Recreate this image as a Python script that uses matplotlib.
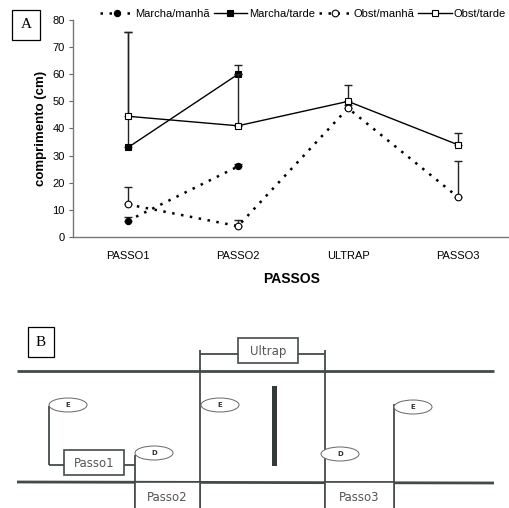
"""
plot.py
Step length chart (panel A) plus the walkway sketch (panel B).
"""

import matplotlib

matplotlib.use("Agg")
import matplotlib.pyplot as plt
from matplotlib.patches import Ellipse, Rectangle

passos = ["PASSO1", "PASSO2", "ULTRAP", "PASSO3"]

marcha_manha = [6, 26]
marcha_manha_err = [1.5, 1.0]
marcha_tarde = [33, 60]
marcha_tarde_err = [42.5, 3.3]
obst_manha = [12, 4, 47.5, 14.7]
obst_manha_err = [6.3, 2.3, 1.0, 13.3]
obst_tarde = [44.5, 41, 50, 34]
obst_tarde_err = [31, 19, 6, 4.3]

yticks = [0, 10, 20, 30, 40, 50, 60, 70, 80]

W, H = 510, 508
GRID = "#444a4a"


def series(ax, vals, errs, label, ls, marker, face, ms, lw):
    x = [i + 0.5 for i in range(len(vals))]
    ax.errorbar(x, vals, yerr=[[0] * len(errs), errs], fmt="none",
                ecolor="#222222", elinewidth=1.0, capsize=3, capthick=1.0)
    ax.plot(x, vals, linestyle=ls, color="black", lw=lw, marker=marker,
            markersize=ms, markerfacecolor=face, markeredgecolor="black",
            markeredgewidth=0.8, label=label)


def main():
    fig = plt.figure(figsize=(W / 100, H / 100), dpi=100)
    plt.rcParams["font.family"] = ["Liberation Sans", "DejaVu Sans"]

    # ---- panel A: chart
    ax = fig.add_axes([73 / W, (H - 237) / H, 437 / W, 217 / H])
    dotted = (0, (1, 2.6))
    series(ax, marcha_manha, marcha_manha_err, "Marcha/manhã", dotted, "o", "black", 4.5, 1.8)
    series(ax, marcha_tarde, marcha_tarde_err, "Marcha/tarde", "-", "s", "black", 5, 1.0)
    series(ax, obst_manha, obst_manha_err, "Obst/manhã", dotted, "o", "white", 4.8, 1.8)
    series(ax, obst_tarde, obst_tarde_err, "Obst/tarde", "-", "s", "white", 5, 1.0)

    ax.set_xlim(0, 437 / 110)
    ax.set_ylim(0, 80)
    ax.set_yticks(yticks)
    ax.set_xticks([i + 0.5 for i in range(len(passos))])
    ax.set_xticklabels(passos)
    ax.tick_params(axis="x", length=0, pad=10, labelsize=8)
    ax.tick_params(axis="y", length=3, width=0.8, color="#666666", labelsize=8, pad=3)
    for s in ["top", "right"]:
        ax.spines[s].set_visible(False)
    for s in ["left", "bottom"]:
        ax.spines[s].set_color("#777777")
        ax.spines[s].set_linewidth(1.0)
    ax.set_ylabel("comprimento (cm)", fontsize=9.5, fontweight="bold", labelpad=4)
    ax.set_xlabel("PASSOS", fontsize=10, fontweight="bold", labelpad=8)

    ax.legend(loc="upper right", bbox_to_anchor=(1.0, 1.07), ncol=4, frameon=False,
              fontsize=8, handlelength=3.0, handletextpad=0.15, columnspacing=0.35,
              borderaxespad=0)

    fig.text(26 / W, 1 - 25 / H, "A", family="Liberation Serif", fontsize=11,
             ha="center", va="center",
             bbox=dict(boxstyle="square,pad=0.55", fc="white", ec="black", lw=0.9))

    # ---- panel B: walkway sketch, drawn in pixel units
    bx = fig.add_axes([0, 0, 1, 218 / H])
    bx.set_xlim(0, W)
    bx.set_ylim(H, 290)
    bx.axis("off")

    def line(xs, ys, lw=1.3):
        bx.plot(xs, ys, color=GRID, lw=lw, solid_capstyle="butt", zorder=2)

    def label_box(x0, y0, x1, y1, txt, fs=8.5):
        bx.add_patch(Rectangle((x0, y0), x1 - x0, y1 - y0, fc="white", ec=GRID,
                               lw=1.2, zorder=3))
        bx.text((x0 + x1) / 2, (y0 + y1) / 2 + 1, txt, ha="center", va="center",
                fontsize=fs, color="#555555", family="DejaVu Sans", zorder=4)

    def oval(cx, cy, txt):
        bx.add_patch(Ellipse((cx, cy), 38, 14, fc="white", ec="#666666", lw=0.7,
                             zorder=3))
        bx.text(cx, cy, txt, ha="center", va="center", fontsize=5,
                color="#333333", family="DejaVu Sans", fontweight="bold", zorder=4)

    line([17, 494], [371, 371], 2.0)
    line([17, 494], [482, 483], 2.0)

    # ultrap bracket
    line([200, 200], [350, 508])
    line([325, 325], [350, 508])
    line([200, 325], [354, 354])
    label_box(238, 338, 298, 363, "Ultrap")

    # obstacle
    bx.add_patch(Rectangle((272, 386), 5, 80, fc="#333a3a", ec="none"))

    # passo1
    line([49, 49], [406, 465])
    line([49, 135], [465, 465])
    label_box(64, 450, 124, 475, "Passo1")
    line([135, 135], [455, 508])
    label_box(135, 482, 200, 512, "Passo2")

    # passo3
    line([394, 394], [404, 508])
    label_box(325, 482, 394, 512, "Passo3")

    oval(68, 405, "E")
    oval(220, 405, "E")
    oval(413, 407, "E")
    oval(154, 453, "D")
    oval(340, 454, "D")

    fig.text(41 / W, 1 - 342 / H, "B", family="Liberation Serif", fontsize=11,
             ha="center", va="center",
             bbox=dict(boxstyle="square,pad=0.55", fc="white", ec="black", lw=0.9))

    fig.savefig("out.png", dpi=100)


if __name__ == "__main__":
    main()
